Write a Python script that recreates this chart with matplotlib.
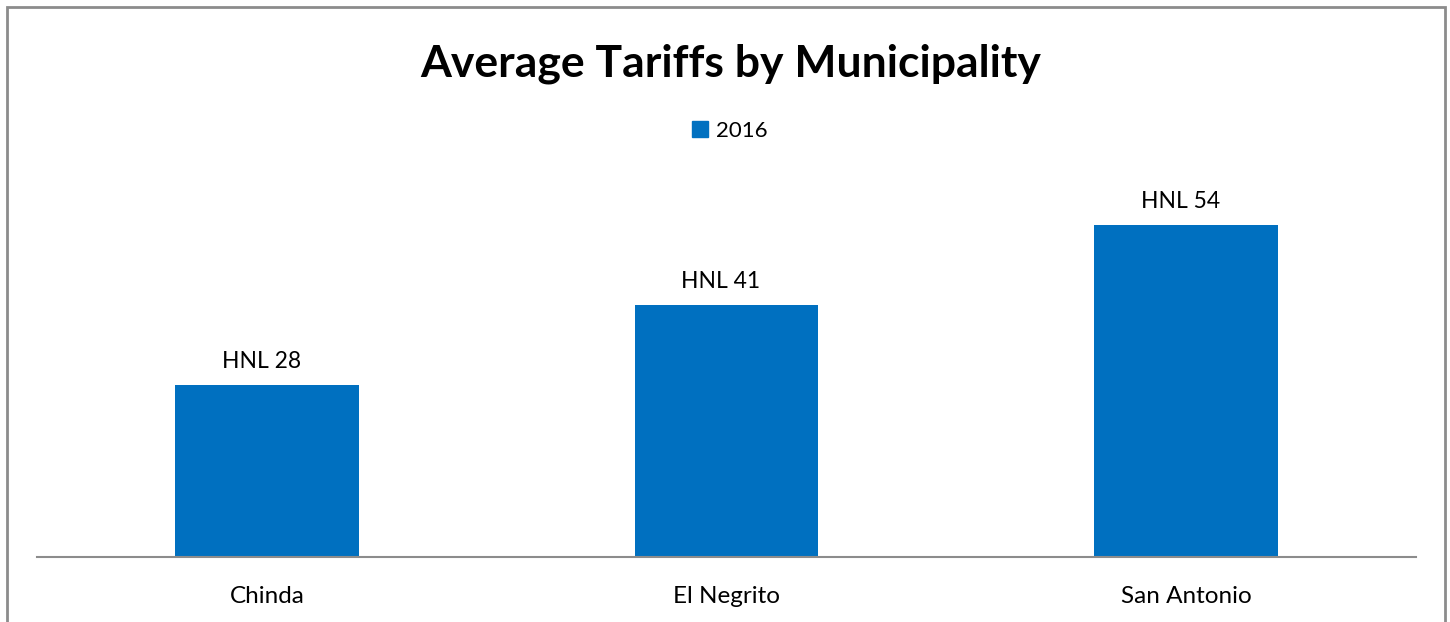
import matplotlib
matplotlib.use("Agg")
import matplotlib.pyplot as plt
from matplotlib.patches import Rectangle, Patch

categories = ["Chinda", "El Negrito", "San Antonio"]
values = [28, 41, 54]
labels = ["HNL 28", "HNL 41", "HNL 54"]
series_name = "2016"
title = "Average Tariffs by Municipality"

W, H = 1450, 622
fig = plt.figure(figsize=(W / 100, H / 100), dpi=100)
plt.rcParams['font.family'] = ['Lato', 'DejaVu Sans']

ax = fig.add_axes([37 / W, 65 / H, (1416 - 37) / W, 369 / H])
color = "#0070C0"
x = range(len(categories))
bars = ax.bar(x, values, width=0.4, color=color, label=series_name)
ax.set_xlim(-0.5, len(categories) - 0.5)
ax.set_ylim(0, 60)
ax.set_xticks(list(x))
ax.set_xticklabels(categories, fontsize=17.5)
ax.tick_params(axis='x', length=0, pad=21)
ax.set_yticks([])
for s in ["top", "right", "left"]:
    ax.spines[s].set_visible(False)
ax.spines["bottom"].set_color("#8c8c8c")
ax.spines["bottom"].set_linewidth(1.5)

for b, lab in zip(bars, labels):
    ax.annotate(lab, (b.get_x() + b.get_width() / 2, b.get_height()),
                xytext=(-4, 9), textcoords="offset points",
                ha="center", va="bottom", fontsize=16.5)

fig.text(731 / W, 1 - 64 / H, title, ha="center", va="center",
         fontsize=32, fontweight="bold")

fig.legend(handles=[Patch(color=color, label=series_name)],
           loc="center", bbox_to_anchor=(730 / W, 1 - 131 / H),
           frameon=False, fontsize=16, handlelength=0.7, handleheight=0.7,
           handletextpad=0.4)

fig.patches.append(Rectangle((7 / W, -0.1), (1445 - 7) / W, 1.1 - 7 / H,
                             transform=fig.transFigure, fill=False,
                             edgecolor="#8c8c8c", linewidth=2))

fig.savefig("out.png", dpi=100, facecolor="white")
